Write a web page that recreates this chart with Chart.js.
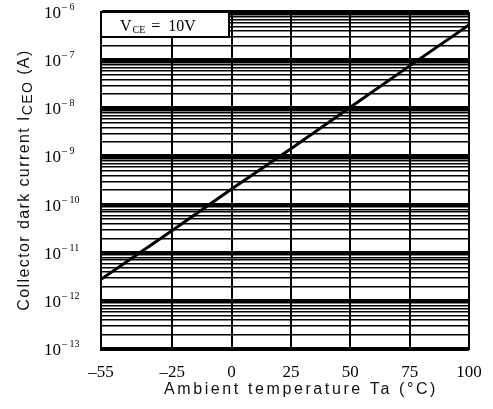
<!DOCTYPE html>
<html>
<head>
<meta charset="utf-8">
<script src="https://cdn.jsdelivr.net/npm/chart.js@4.4.1/dist/chart.umd.min.js"></script>
<style>
  html, body { margin: 0; padding: 0; background: #fff; }
  #wrap { width: 493px; height: 409px; }
</style>
</head>
<body>
<div id="wrap"><canvas id="darkChart"></canvas></div>
<script>
// chart data
var xTicks = [-55, -25, 0, 25, 50, 75, 100];
var yDecades = [-13, -12, -11, -10, -9, -8, -7, -6];
var temps = [-55, -25, 0, 25, 50, 75, 100];
var iceo = [2.8e-12, 2.9e-11, 2.1e-10, 1.45e-9, 1.05e-8, 7.6e-8, 5.4e-7];
var noteText = ['V', 'CE', ' =  10V'];

// every log grid value 1..9 x 10^n
function logGridTicks() {
    var out = [];
    for (var i = 0; i < yDecades.length; i++) {
        var p = Math.pow(10, yDecades[i]);
        var top = i === yDecades.length - 1 ? 1 : 9;
        for (var m = 1; m <= top; m++) {
            out.push({ value: m * p, major: m === 1 });
        }
    }
    return out;
}

var serif = '"Liberation Serif", "DejaVu Serif", serif';
var sans = '"Liberation Sans", Arial, sans-serif';

var labelsPlugin = {
    id: 'sheetLabels',
    afterDraw: function (chart) {
        var ctx = chart.ctx;
        var area = chart.chartArea;
        var xs = chart.scales.x;
        var ys = chart.scales.y;
        ctx.save();
        ctx.fillStyle = '#000';

        // x tick labels
        ctx.font = '17px ' + serif;
        ctx.textAlign = 'center';
        ctx.textBaseline = 'alphabetic';
        xTicks.forEach(function (t) {
            var s = t < 0 ? '\u2013' + Math.abs(t) : String(t);
            ctx.fillText(s, xs.getPixelForValue(t), 377);
        });

        // y tick labels 10^n
        ctx.textAlign = 'left';
        yDecades.forEach(function (n) {
            var py = ys.getPixelForValue(Math.pow(10, n));
            ctx.font = '17px ' + serif;
            ctx.fillText('10', 44, py + 6);
            ctx.font = '10px ' + serif;
            ctx.fillText('\u2013 ' + Math.abs(n), 62, py - 2);
        });

        // condition box in the corner
        var bx = area.left, by = area.top, bw = 128, bh = 25;
        ctx.fillStyle = '#fff';
        ctx.fillRect(bx, by, bw, bh);
        ctx.strokeStyle = '#000';
        ctx.lineWidth = 2;
        ctx.strokeRect(bx, by, bw, bh);
        ctx.fillStyle = '#000';
        ctx.font = '16px ' + serif;
        ctx.fillText(noteText[0], bx + 19, by + 19);
        var vw = ctx.measureText(noteText[0]).width;
        ctx.font = '10px ' + serif;
        ctx.fillText(noteText[1], bx + 20 + vw, by + 21);
        var cw = ctx.measureText(noteText[1]).width;
        ctx.font = '16px ' + serif;
        ctx.fillText(noteText[2], bx + 22 + vw + cw, by + 19);

        // x axis title
        ctx.fillStyle = '#111';
        ctx.font = '16px ' + sans;
        ctx.letterSpacing = '2.6px';
        ctx.textAlign = 'center';
        ctx.fillText('Ambient temperature Ta (\u00b0C)', 301, 394);

        // y axis title with subscript
        ctx.save();
        ctx.letterSpacing = '1.4px';
        ctx.translate(29, 180);
        ctx.rotate(-Math.PI / 2);
        ctx.textAlign = 'left';
        var a = 'Collector dark current I', b = 'CEO', c = ' (A)';
        ctx.font = '16px ' + sans;
        var wa = ctx.measureText(a).width, wc = ctx.measureText(c).width;
        ctx.font = '14px ' + sans;
        var wb = ctx.measureText(b).width;
        var x0 = -(wa + wb + wc) / 2;
        ctx.font = '16px ' + sans;
        ctx.fillText(a, x0, 0);
        ctx.font = '14px ' + sans;
        ctx.fillText(b, x0 + wa, 3);
        ctx.font = '16px ' + sans;
        ctx.fillText(c, x0 + wa + wb, 0);
        ctx.restore();

        ctx.restore();
    }
};

new Chart(document.getElementById('darkChart'), {
    type: 'line',
    data: {
        datasets: [{
            data: temps.map(function (t, i) { return { x: t, y: iceo[i] }; }),
            borderColor: '#000',
            borderWidth: 3,
            pointRadius: 0,
            tension: 0,
            fill: false
        }]
    },
    options: {
        responsive: true,
        maintainAspectRatio: false,
        animation: false,
        layout: { padding: { left: 101, right: 24, top: 12, bottom: 60 } },
        plugins: {
            legend: { display: false },
            tooltip: { enabled: false }
        },
        scales: {
            x: {
                type: 'linear',
                min: -55,
                max: 100,
                afterBuildTicks: function (scale) {
                    scale.ticks = xTicks.map(function (v) { return { value: v }; });
                },
                ticks: { display: false },
                grid: { color: '#000', lineWidth: 2, drawTicks: false },
                border: { color: '#000', width: 2 }
            },
            y: {
                type: 'logarithmic',
                min: 1e-13,
                max: 1e-6,
                afterBuildTicks: function (scale) {
                    scale.ticks = logGridTicks();
                },
                ticks: { display: false },
                grid: {
                    color: '#000',
                    drawTicks: false,
                    lineWidth: function (c) {
                        return c.tick && c.tick.major ? 4 : 1.4;
                    }
                },
                border: { color: '#000', width: 2 }
            }
        }
    },
    plugins: [labelsPlugin]
});
</script>
</body>
</html>
